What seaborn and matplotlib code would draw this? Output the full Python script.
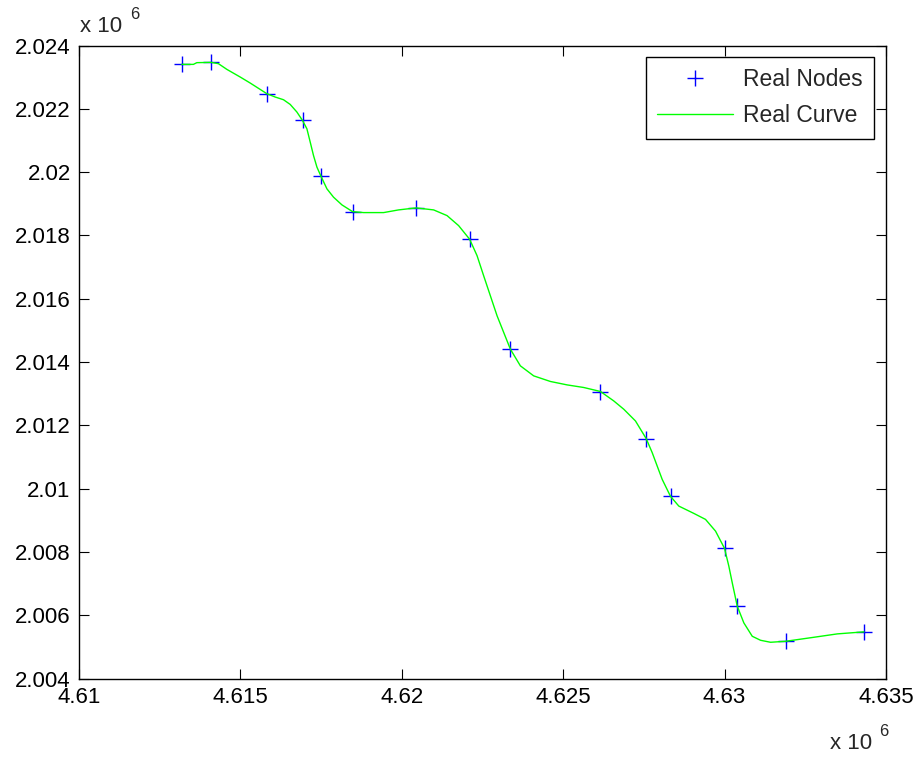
import numpy as np
import pandas as pd
import seaborn as sns
import matplotlib
matplotlib.use("Agg")
import matplotlib.pyplot as plt
from matplotlib.ticker import FixedLocator
from matplotlib.lines import Line2D

# Surveyed node coordinates
node_x = [4613184, 4614093, 4615820, 4616924, 4617494, 4618474, 4620440, 4622102,
          4623364, 4626140, 4627572, 4628326, 4630000, 4630394, 4631891, 4634319]
node_y = [2023405, 2023469, 2022478, 2021633, 2019874, 2018753, 2018870, 2017880,
          2014408, 2013063, 2011582, 2009756, 2008111, 2006285, 2005177, 2005475]

# Traced curve through the nodes
curve_x = [4613184, 4613544, 4613650, 4614093, 4614319, 4614580, 4614992, 4615302,
           4615612, 4615820, 4616078, 4616335, 4616543, 4616750, 4616924, 4617060,
           4617163, 4617265, 4617371, 4617495, 4617681, 4617885, 4618146, 4618474,
           4618816, 4619436, 4619901, 4620440, 4620986, 4621402, 4621761, 4622102,
           4622332, 4622536, 4622744, 4622952, 4623157, 4623364, 4623674, 4624087,
           4624605, 4625122, 4625637, 4626155, 4626567, 4626878, 4627240, 4627572,
           4627758, 4627913, 4628068, 4628326, 4628583, 4629048, 4629411, 4629721,
           4630000, 4630133, 4630239, 4630394, 4630598, 4630859, 4631116, 4631426,
           4631891, 4632769, 4633495, 4634319]
curve_y = [2023405, 2023405, 2023459, 2023468, 2023427, 2023247, 2023006, 2022816,
           2022614, 2022478, 2022373, 2022288, 2022139, 2021899, 2021633, 2021370,
           2020949, 2020525, 2020158, 2019873, 2019472, 2019209, 2018965, 2018753,
           2018722, 2018722, 2018807, 2018870, 2018807, 2018627, 2018310, 2017880,
           2017361, 2016728, 2016095, 2015462, 2014937, 2014408, 2013880, 2013563,
           2013386, 2013278, 2013196, 2013070, 2012772, 2012509, 2012139, 2011582,
           2011139, 2010715, 2010294, 2009756, 2009449, 2009218, 2009028, 2008658,
           2008111, 2007551, 2007025, 2006285, 2005759, 2005335, 2005209, 2005146,
           2005177, 2005304, 2005411, 2005475]

x_ticks = [4610000, 4615000, 4620000, 4625000, 4630000, 4635000]
x_tick_labels = ["4.61", "4.615", "4.62", "4.625", "4.63", "4.635"]
y_ticks = [2004000, 2006000, 2008000, 2010000, 2012000, 2014000,
           2016000, 2018000, 2020000, 2022000, 2024000]
y_tick_labels = ["2.004", "2.006", "2.008", "2.01", "2.012", "2.014",
                 "2.016", "2.018", "2.02", "2.022", "2.024"]

sns.set_style("ticks")
plt.rcParams["font.family"] = ["Liberation Sans", "DejaVu Sans"]
plt.rcParams["xtick.direction"] = "in"
plt.rcParams["ytick.direction"] = "in"

nodes = pd.DataFrame({"x": node_x, "y": node_y})
curve = pd.DataFrame({"x": curve_x, "y": curve_y})

fig = plt.figure(figsize=(9.19, 7.59), dpi=100)
ax = fig.add_axes([0.086, 0.106, 0.878, 0.834])

sns.scatterplot(data=nodes, x="x", y="y", marker="+", s=135, color="#0000ff",
                linewidth=1.0, ax=ax, zorder=2, legend=False)
sns.lineplot(data=curve, x="x", y="y", sort=False, estimator=None,
             color="#00ff00", linewidth=1.0, ax=ax, zorder=3, legend=False)

ax.set_xlim(4610000, 4635000)
ax.set_ylim(2004000, 2024000)
ax.xaxis.set_major_locator(FixedLocator(x_ticks))
ax.yaxis.set_major_locator(FixedLocator(y_ticks))
ax.set_xticklabels(x_tick_labels)
ax.set_yticklabels(y_tick_labels)
ax.set_xlabel("")
ax.set_ylabel("")

for side in ["top", "right", "bottom", "left"]:
    ax.spines[side].set_visible(True)
    ax.spines[side].set_color("black")
    ax.spines[side].set_linewidth(1.0)
ax.tick_params(axis="both", which="major", direction="in", length=7, width=0.8,
               top=True, right=True, labelsize=16, colors="black", pad=6)

handles = [
    Line2D([], [], linestyle="none", marker="+", markersize=11.5,
           markeredgewidth=1.0, color="#0000ff"),
    Line2D([], [], color="#00ff00", linewidth=1.0),
]
leg = ax.legend(handles, ["Real Nodes", "Real Curve"], loc="upper right",
                fontsize=16.5, frameon=True, fancybox=False, framealpha=1,
                edgecolor="black", borderaxespad=0.5, handlelength=3.3,
                handletextpad=0.45, labelspacing=0.55, borderpad=0.5)
leg.get_frame().set_linewidth(1.0)

# Exponent annotations for both axes
fig.text(0.087, 0.958, "x 10", fontsize=16, ha="left", va="baseline")
fig.text(0.142, 0.975, "6", fontsize=12, ha="left", va="baseline")
fig.text(0.903, 0.013, "x 10", fontsize=16, ha="left", va="baseline")
fig.text(0.957, 0.030, "6", fontsize=12, ha="left", va="baseline")

fig.savefig("out.png", dpi=100, facecolor="white")
